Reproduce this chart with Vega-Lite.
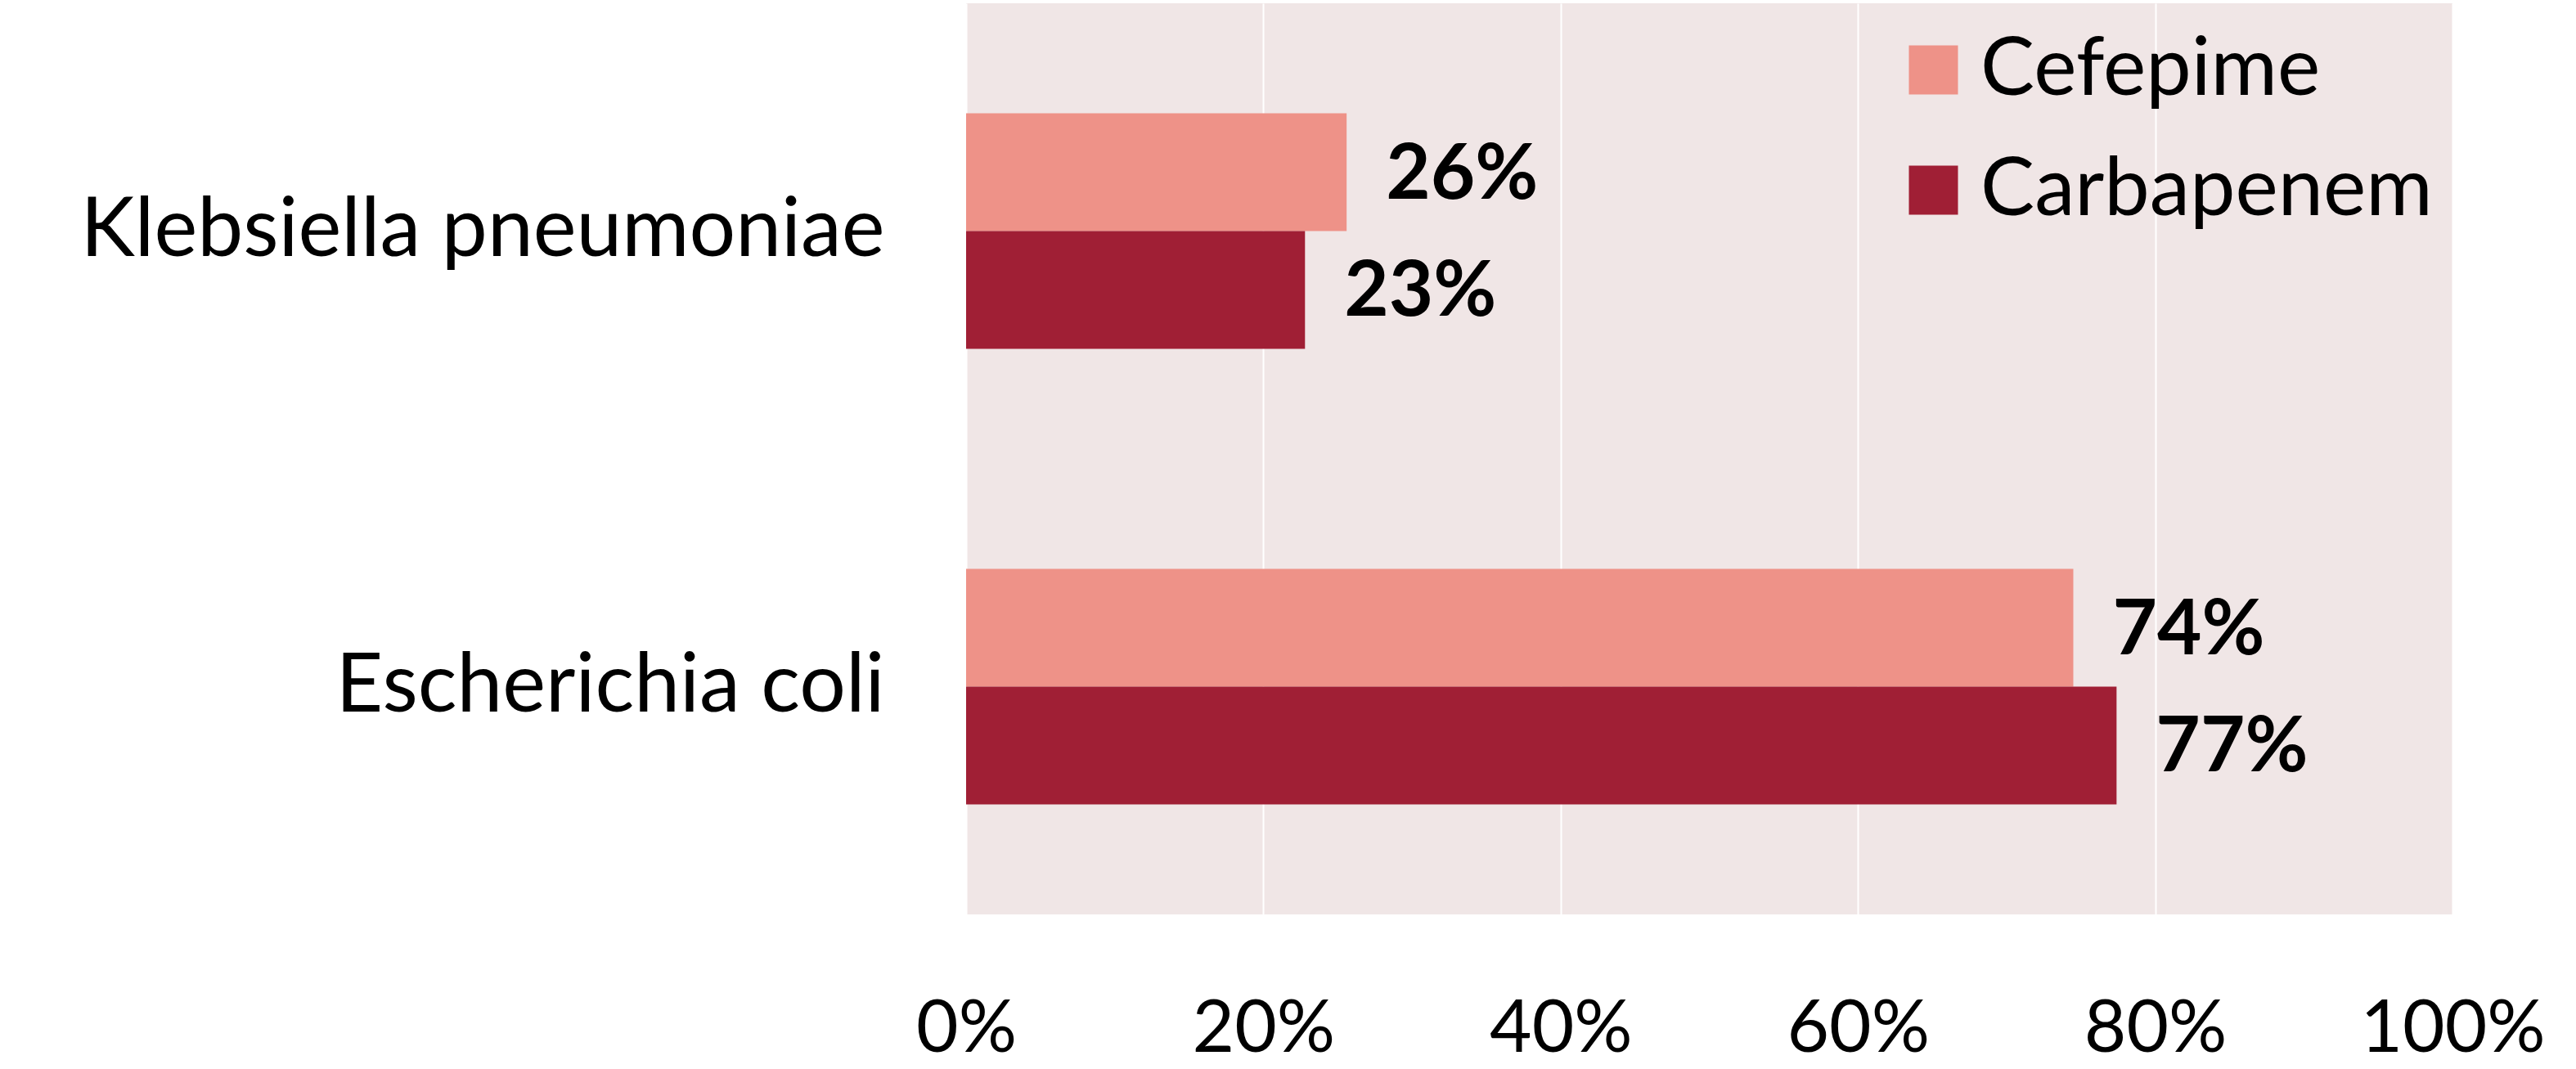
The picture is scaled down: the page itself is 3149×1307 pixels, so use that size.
{
  "$schema": "https://vega.github.io/schema/vega-lite/v6.json",
  "autosize": {"type": "none"},
  "padding": {"left": 1181, "top": 4, "right": 151, "bottom": 189},
  "width": 1817,
  "height": 1114,
  "background": "white",
  "config": {
    "view": {"stroke": null, "fill": "#F0E6E6"},
    "font": "Lato"
  },
  "data": {
    "values": [
      {"organism": "Klebsiella pneumoniae", "drug": "Cefepime", "value": 0.256},
      {"organism": "Klebsiella pneumoniae", "drug": "Carbapenem", "value": 0.228},
      {"organism": "Escherichia coli", "drug": "Cefepime", "value": 0.7449},
      {"organism": "Escherichia coli", "drug": "Carbapenem", "value": 0.774}
    ]
  },
  "encoding": {
    "y": {
      "field": "organism",
      "type": "nominal",
      "sort": ["Klebsiella pneumoniae", "Escherichia coli"],
      "scale": {"paddingInner": 0.483, "paddingOuter": 0.2415},
      "axis": {
        "title": null,
        "domain": false,
        "ticks": false,
        "labelFontSize": 100,
        "labelColor": "black",
        "labelPadding": 100,
        "labelLimit": 2000,
        "labelFont": "Lato"
      }
    },
    "yOffset": {
      "field": "drug",
      "type": "nominal",
      "sort": ["Cefepime", "Carbapenem"],
      "scale": {"paddingInner": 0, "paddingOuter": 0}
    },
    "x": {
      "field": "value",
      "type": "quantitative",
      "scale": {"domain": [0, 1]},
      "axis": {
        "title": null,
        "format": ".0%",
        "values": [0, 0.2, 0.4, 0.6, 0.8, 1],
        "domain": false,
        "ticks": false,
        "grid": true,
        "gridColor": "white",
        "gridWidth": 2,
        "labelFontSize": 89,
        "labelColor": "black",
        "labelPadding": 97,
        "labelFlush": false,
        "labelLimit": 1000,
        "labelFont": "Lato"
      }
    }
  },
  "layer": [
    {
      "mark": {"type": "bar"},
      "encoding": {
        "color": {
          "field": "drug",
          "type": "nominal",
          "sort": ["Cefepime", "Carbapenem"],
          "scale": {"domain": ["Cefepime", "Carbapenem"], "range": ["#EE9288", "#A01F35"]},
          "legend": {
            "title": null,
            "orient": "none",
            "legendX": 1133,
            "legendY": 32,
            "padding": 0,
            "symbolType": "square",
            "symbolSize": 3600,
            "symbolStrokeWidth": 0,
            "labelFontSize": 99,
            "labelFont": "Lato",
            "labelColor": "black",
            "labelOffset": 8,
            "rowPadding": 47,
            "labelLimit": 1000
          }
        }
      }
    },
    {
      "mark": {"type": "text", "align": "left", "baseline": "middle", "dx": 48, "dy": 4, "fontSize": 94, "fontWeight": "bold", "font": "Lato", "color": "black"},
      "encoding": {
        "text": {"field": "value", "type": "quantitative", "format": ".0%"}
      }
    }
  ]
}
